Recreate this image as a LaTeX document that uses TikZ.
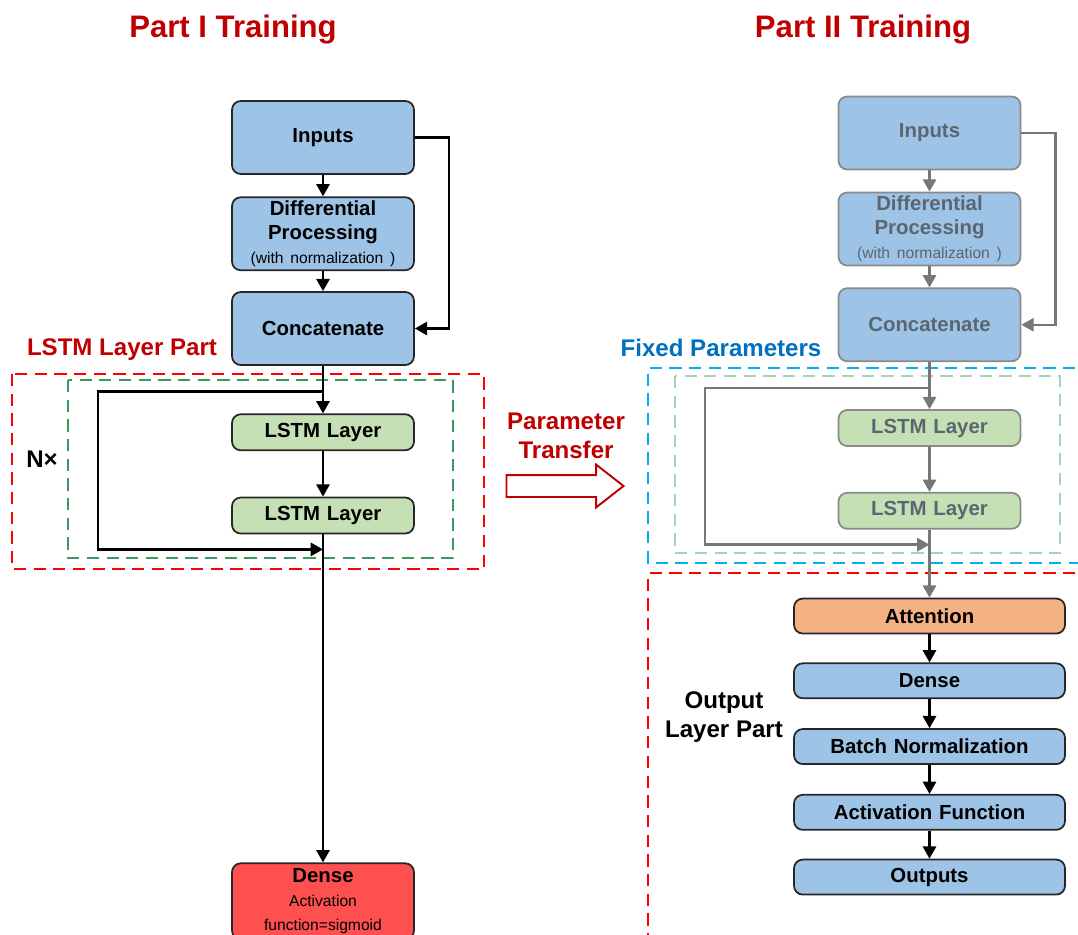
\documentclass[tikz,border=0pt]{standalone}
\usepackage{fontspec}
\setmainfont{Liberation Sans}
\usetikzlibrary{arrows.meta,positioning,shapes.arrows,calc}
\definecolor{boxblue}{HTML}{9DC3E6}
\definecolor{boxgreen}{HTML}{C5E0B4}
\definecolor{boxorange}{HTML}{F4B183}
\definecolor{boxred}{HTML}{FF5050}
\definecolor{titlered}{HTML}{C00000}
\definecolor{partblue}{HTML}{0070C0}
\definecolor{dashred}{HTML}{FF0000}
\definecolor{dashgreen}{HTML}{3A9A5E}
\definecolor{dashblue}{HTML}{00B0F0}
\definecolor{fadegreen}{HTML}{A6D4B6}
\definecolor{fadeline}{HTML}{8A8A8A}
\definecolor{fadetext}{HTML}{5C6670}
\definecolor{fadearrow}{HTML}{777777}
\newcommand{\subtext}{\fontsize{8.9}{13.6}\selectfont\mdseries}

\begin{document}
\begin{tikzpicture}[
  x=0.2mm, y=-0.2mm,
  font=\fontsize{11.6}{13.6}\selectfont\bfseries,
  blk/.style={rounded corners=5pt, draw=black!85, line width=1pt, align=center, text width=34mm, minimum width=36.4mm, inner sep=1pt},
  inbox/.style={blk, fill=boxblue, minimum height=14.6mm},
  lstm/.style={blk, fill=boxgreen, minimum height=7.2mm},
  outbox/.style={blk, fill=boxblue, text width=52mm, minimum width=54.2mm, minimum height=7mm},
  fixed/.style={draw=fadeline, text=fadetext},
  arr/.style={-{Triangle[length=7pt,width=7.5pt]}, line width=1.4pt},
  farr/.style={arr, draw=fadearrow},
  region/.style={dash pattern=on 7pt off 4.2pt, line width=1.6pt},
  heading/.style={font=\fontsize{17.7}{20}\selectfont\bfseries, text=titlered},
  tag/.style={font=\fontsize{13.7}{16.2}\selectfont\bfseries, align=center}
]
\useasboundingbox (0,0) rectangle (1078,935);

\node[heading] (t1) at (233,30) {Part I Training};
\node[heading] (t2) at (863,30) {Part II Training};

\node[inbox] (in1) at (323,137.5) {Inputs};
\node[inbox, below=4.3mm of in1] (dp1) {Differential\\Processing\\{\subtext(with normalization )}};
\node[inbox, below=4.0mm of dp1] (cat1) {Concatenate};
\node[lstm, below=9.5mm of cat1] (ls1a) {LSTM Layer};
\node[lstm, below=9.1mm of ls1a] (ls1b) {LSTM Layer};
\node[blk, fill=boxred, minimum height=15.2mm, below=65.6mm of ls1b] (den1) {Dense\\{\subtext Activation\\function=sigmoid}};

\node[inbox, fixed] (in2) at (929.5,133) {Inputs};
\node[inbox, fixed, below=4.25mm of in2] (dp2) {Differential\\Processing\\{\subtext(with normalization )}};
\node[inbox, fixed, below=4.2mm of dp2] (cat2) {Concatenate};
\node[lstm, fixed, below=9.4mm of cat2] (ls2a) {LSTM Layer};
\node[lstm, fixed, below=9.0mm of ls2a] (ls2b) {LSTM Layer};
\node[outbox, fill=boxorange, below=13.6mm of ls2b] (att) {Attention};
\node[outbox, below=5.6mm of att] (den2) {Dense};
\node[outbox, below=5.8mm of den2] (bn) {Batch Normalization};
\node[outbox, below=5.8mm of bn] (act) {Activation Function};
\node[outbox, below=5.6mm of act] (outs) {Outputs};

\draw[region, dashred] (12,374) rectangle (484,569);
\draw[region, dashgreen] (68,380) rectangle (453,558);
\draw[region, dashblue] (1095,368) -| (648,563) -- (1095,563);
\draw[region, fadegreen] (675,376) rectangle (1060,553);
\draw[region, dashred] (1095,573) -| (648,950);

\node[tag, text=titlered] (lstmpart) at (122,350) {LSTM Layer Part};
\node[tag] (nx) at (42,459) {N×};
\node[tag, text=partblue] (fixp) at (721,348) {Fixed Parameters};
\node[tag] (outpart) at (724,717) {Output\\Layer Part};
\node[tag, text=titlered] (xfertxt) at (566,436) {Parameter\\Transfer};
\node[single arrow, draw=titlered, fill=white, line width=1.1pt, minimum height=23.4mm, inner xsep=0pt, inner ysep=2mm, single arrow head extend=2.1mm, single arrow tip angle=76] (xfer) at (558,486) {};

\draw[arr] (in1) -- (dp1);
\draw[arr] (dp1) -- (cat1);
\draw[arr] (in1.east) -- ++(34,0) |- (cat1.east);
\draw[arr] (cat1) -- (ls1a);
\draw[arr] (ls1a) -- (ls1b);
\draw[arr] (ls1b) -- (den1);
\coordinate (sp1) at ($(ls1a.north)+(0,-22)$);
\coordinate (jn1) at ($(ls1b.south)+(0,15)$);
\coordinate (lp1) at (98,0);
\draw[arr] (sp1) -- (sp1 -| lp1) |- (jn1);

\draw[farr] (in2) -- (dp2);
\draw[farr] (dp2) -- (cat2);
\draw[farr] (in2.east) -- ++(34,0) |- (cat2.east);
\draw[farr] (cat2) -- (ls2a);
\draw[farr] (ls2a) -- (ls2b);
\draw[farr] (ls2b) -- (att);
\coordinate (sp2) at ($(ls2a.north)+(0,-21)$);
\coordinate (jn2) at ($(ls2b.south)+(0,15)$);
\coordinate (lp2) at (705,0);
\draw[farr] (sp2) -- (sp2 -| lp2) |- (jn2);
\draw[arr] (att) -- (den2);
\draw[arr] (den2) -- (bn);
\draw[arr] (bn) -- (act);
\draw[arr] (act) -- (outs);
\end{tikzpicture}
\end{document}
